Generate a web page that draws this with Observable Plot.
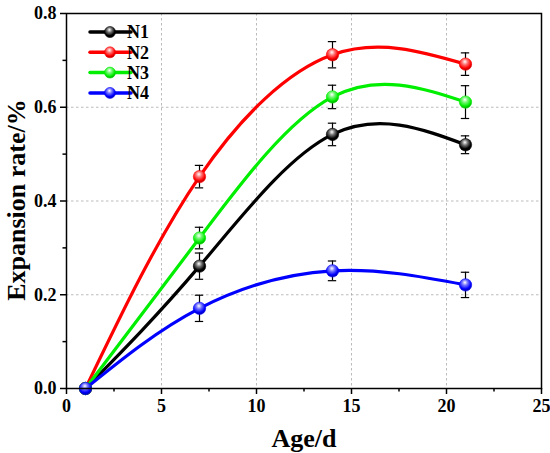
<!DOCTYPE html>
<html><head><meta charset="utf-8">
<script src="https://cdn.jsdelivr.net/npm/d3@7"></script>
<script src="https://cdn.jsdelivr.net/npm/@observablehq/plot@0.6"></script>
<style>body{margin:0;background:#fff;} svg{display:block;}</style>
</head><body><div id="chart"></div>
<script>
const ages = [1, 7, 14, 21];
const seriesNames = ["N1", "N2", "N3", "N4"];
const colors = ["#000000", "#ff0000", "#00ee00", "#0000ff"];
const N1 = [0, 0.261, 0.542, 0.52];
const N2 = [0, 0.452, 0.712, 0.692];
const N3 = [0, 0.321, 0.622, 0.611];
const N4 = [0, 0.171, 0.251, 0.221];
const E1 = [0, 0.028, 0.024, 0.019];
const E2 = [0, 0.024, 0.028, 0.024];
const E3 = [0, 0.023, 0.025, 0.035];
const E4 = [0, 0.028, 0.021, 0.027];
const xTicks = [0, 5, 10, 15, 20, 25];
const xMinor = [2.5, 7.5, 12.5, 17.5, 22.5];
const yTicks = [0, 0.2, 0.4, 0.6, 0.8];
const yMinor = [0.1, 0.3, 0.5, 0.7];

const vals = [N1, N2, N3, N4], errs = [E1, E2, E3, E4];
const data = [];
seriesNames.forEach((s, i) => ages.forEach((a, j) => data.push({series: s, age: a, value: vals[i][j], err: errs[i][j]})));
const withErr = data.filter(d => d.err > 0);
const gradId = s => `grad-${s}`;

const font = "Liberation Serif";
const plot = Plot.plot({
  width: 550, height: 453,
  marginLeft: 66, marginRight: 9, marginTop: 13, marginBottom: 65,
  style: {fontFamily: "Liberation Serif", fontWeight: "bold", fontSize: "18px", background: "#fff"},
  x: {domain: [0, 25]},
  y: {domain: [0, 0.8]},
  color: {domain: seriesNames, range: colors},
  marks: [
    Plot.gridX(xTicks.slice(1, -1), {stroke: "#aaa", strokeOpacity: 1, strokeDasharray: "2.5,2.5", strokeWidth: 0.8}),
    Plot.gridY(yTicks.slice(1, -1), {stroke: "#aaa", strokeOpacity: 1, strokeDasharray: "2.5,2.5", strokeWidth: 0.8}),
    Plot.axisX(xTicks, {tickSize: 6, tickPadding: 5, strokeWidth: 1.5, label: null}),
    Plot.axisX(xMinor, {tickSize: 3.5, strokeWidth: 1.5, label: null, text: null}),
    Plot.axisY(yTicks, {tickSize: 6, tickPadding: 4, strokeWidth: 1.5, label: null, tickFormat: d3.format(".1f")}),
    Plot.axisY(yMinor, {tickSize: 3.5, strokeWidth: 1.5, label: null, text: null}),
    Plot.line(data, {x: "age", y: "value", z: "series", stroke: "series", strokeWidth: 3.2, curve: "natural"}),
    Plot.ruleX(withErr, {x: "age", y1: d => d.value - d.err, y2: d => d.value + d.err, stroke: "#000", strokeWidth: 1.2}),
    Plot.ruleY(withErr, {y: d => d.value + d.err, x1: d => d.age - 0.22, x2: d => d.age + 0.22, stroke: "#000", strokeWidth: 1.2}),
    Plot.ruleY(withErr, {y: d => d.value - d.err, x1: d => d.age - 0.22, x2: d => d.age + 0.22, stroke: "#000", strokeWidth: 1.2}),
    Plot.dot(data, {x: "age", y: "value", r: 6.2, fill: d => `url(#${gradId(d.series)})`, stroke: "series", strokeWidth: 0.6}),
    Plot.frame({stroke: "#000", strokeWidth: 1.5})
  ]
});

const svg = d3.select(plot);
const defs = svg.insert("defs", ":first-child");
seriesNames.forEach((s, i) => {
  const c = d3.color(colors[i]);
  const g = defs.append("radialGradient").attr("id", gradId(s)).attr("cx", "0.45").attr("cy", "0.35").attr("r", "0.65").attr("fx", "0.45").attr("fy", "0.3");
  g.append("stop").attr("offset", "0").attr("stop-color", "#ffffff");
  g.append("stop").attr("offset", "0.35").attr("stop-color", d3.interpolateRgb(colors[i], "#fff")(0.45));
  g.append("stop").attr("offset", "0.75").attr("stop-color", colors[i]);
  g.append("stop").attr("offset", "1").attr("stop-color", c.darker(1.2).formatHex());
});

const lg = svg.append("g").attr("font-family", font).attr("font-weight", "bold").attr("font-size", 18);
seriesNames.forEach((s, i) => {
  const yy = 32 + i * 20.3;
  lg.append("line").attr("x1", 90).attr("x2", 131).attr("y1", yy).attr("y2", yy).attr("stroke", colors[i]).attr("stroke-width", 3.5).attr("stroke-linecap", "round");
  lg.append("circle").attr("cx", 110).attr("cy", yy).attr("r", 5.5).attr("fill", `url(#${gradId(s)})`).attr("stroke", colors[i]).attr("stroke-width", 0.6);
  lg.append("text").attr("x", 138).attr("y", yy).attr("dy", "0.35em").text(s);
});

const tg = svg.append("g").attr("font-family", font).attr("font-weight", "bold").attr("font-size", 26).attr("text-anchor", "middle");
tg.append("text").attr("x", 304).attr("y", 447).text("Age/d");
tg.append("text").attr("transform", "translate(25,200) rotate(-90)").text("Expansion rate/%");

document.getElementById("chart").appendChild(plot);
</script>
</body></html>
